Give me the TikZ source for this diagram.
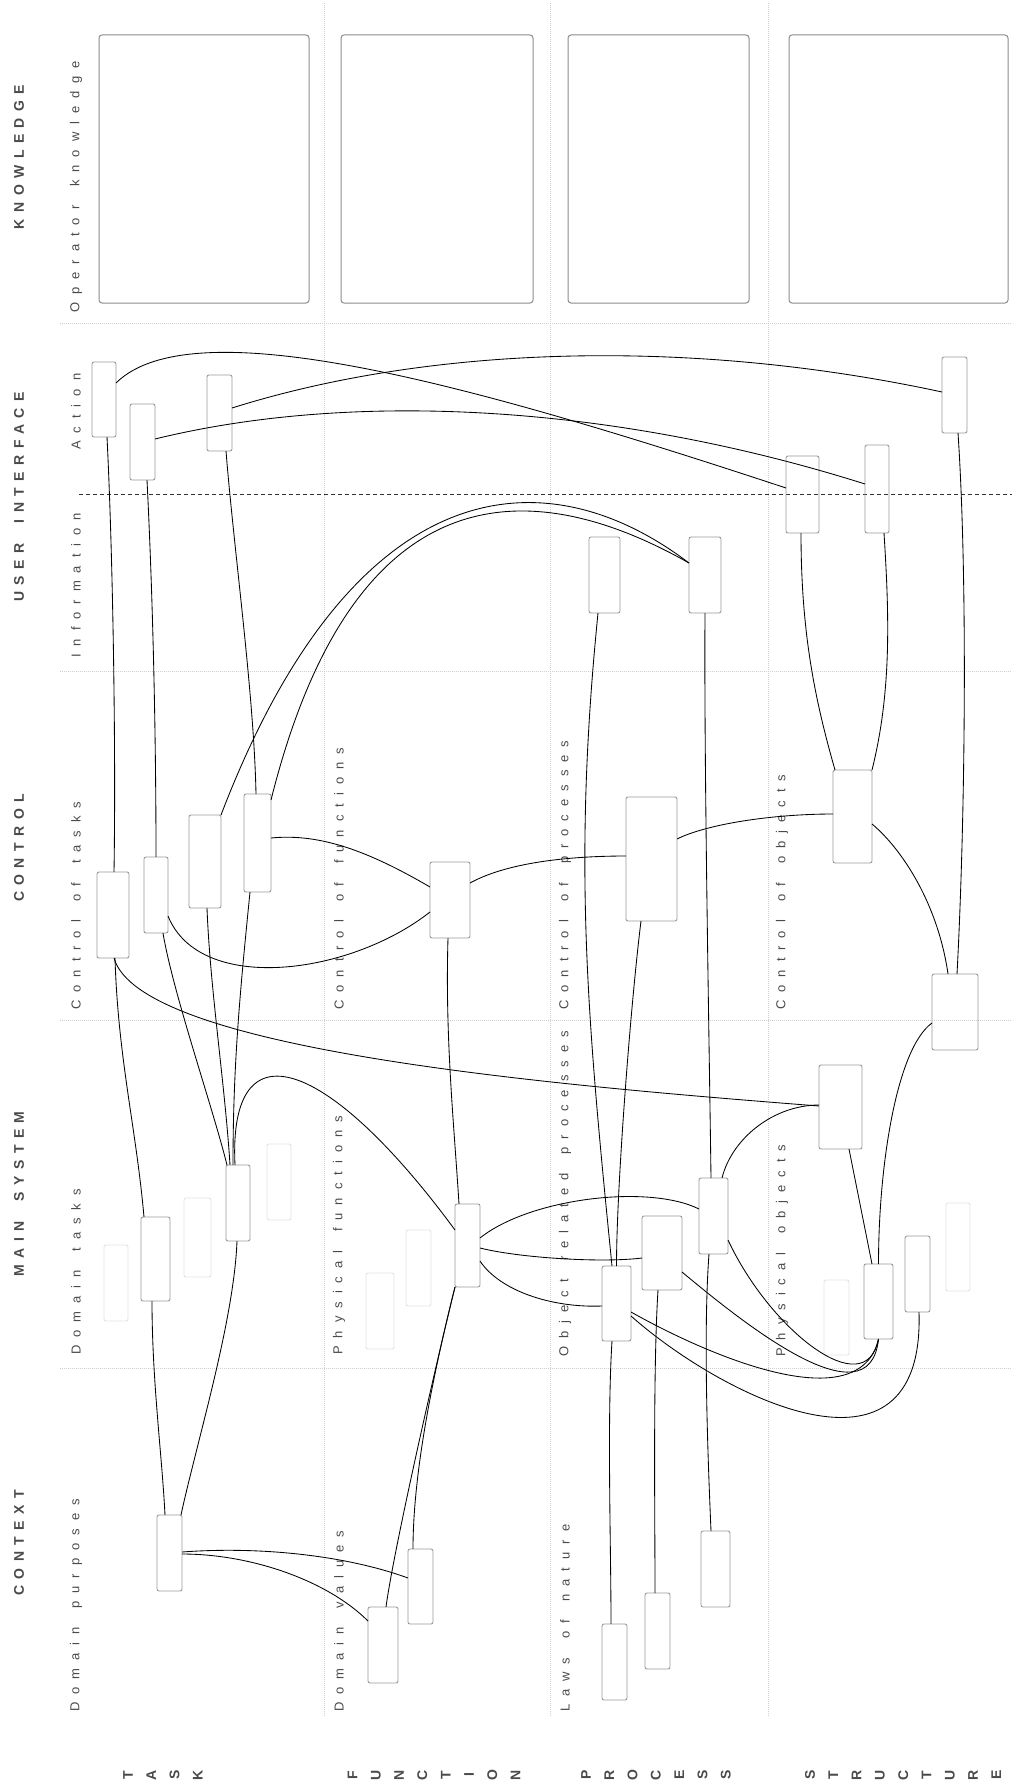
\documentclass[tikz,border=0pt]{standalone}
\usepackage{fontspec}
\setmainfont{Liberation Sans}
\newfontfamily\lblfont[LetterSpace=61.5]{Liberation Sans}
\newfontfamily\hdrfont[LetterSpace=46]{Liberation Sans}
\usetikzlibrary{calc}
\definecolor{gridgray}{HTML}{CFCFCF}
\definecolor{boxgray}{HTML}{9A9A9A}
\definecolor{ghostgray}{HTML}{E2E2E2}
\definecolor{kgray}{HTML}{8C8C8C}
\definecolor{txtgray}{HTML}{4A4A4A}
\definecolor{dashgray}{HTML}{333333}
\newcommand{\mybox}[5][bx]{\node[#1,minimum width=#4pt,minimum height=#5pt] (#2) at (#3) {};}
\newcommand{\ws}{\space\hskip7pt\relax}
\newcommand{\wm}{\space\hskip10pt\relax}
\tikzset{
  bx/.style={draw=boxgray, line width=0.9pt, rounded corners=2pt, inner sep=0pt, outer sep=0pt},
  gbx/.style={draw=ghostgray, line width=0.9pt, rounded corners=2pt, inner sep=0pt, outer sep=0pt},
  kbx/.style={draw=kgray, line width=1pt, rounded corners=3pt, inner sep=0pt, outer sep=0pt},
  lnk/.style={draw=black, line width=0.85pt},
  gridln/.style={draw=gridgray, line width=1pt, dash pattern=on 1pt off 1pt},
  uidash/.style={draw=dashgray, line width=1pt, dash pattern=on 4pt off 3pt},
  mainlbl/.style={rotate=90, inner sep=0pt, text=txtgray, font=\hdrfont\bfseries\fontsize{14}{16}\selectfont},
  sublbl/.style={rotate=90, anchor=west, inner sep=0pt, text=txtgray, font=\lblfont\fontsize{13}{15}\selectfont},
  collbl/.style={rotate=90, inner sep=0pt, text=txtgray, font=\bfseries\fontsize{14}{16}\selectfont}
}
\begin{document}
\begin{tikzpicture}[x=1pt,y=-1pt]
\useasboundingbox (0,0) rectangle (1012,1787);
% grid
\foreach \gx in {324,550,768} \draw[gridln] (\gx,3) -- (\gx,1717);
\foreach \gy in {323,671,1020,1368} \draw[gridln] (60,\gy) -- (1012,\gy);
\draw[uidash] (79,494) -- (1012,494);
% main labels
\node[mainlbl] (hK) at (19,157) {KNOWLEDGE};
\node[mainlbl] (hU) at (19,497) {USER\wm INTERFACE};
\node[mainlbl] (hC) at (19,848) {CONTROL};
\node[mainlbl] (hM) at (19,1194) {MAIN\wm SYSTEM};
\node[mainlbl] (hX) at (19,1543) {CONTEXT};
% sub labels
\node[sublbl] (s1) at (76,313) {Operator\ws knowledge};
\node[sublbl] (s2) at (76,450) {Action};
\node[sublbl] (s3) at (76,658) {Information};
\node[sublbl] (s4) at (76,1010) {Control\ws of\ws tasks};
\node[sublbl] (s5) at (76,1355) {Domain\ws tasks};
\node[sublbl] (s6) at (76,1712) {Domain\ws purposes};
\node[sublbl] (s7) at (339,1010) {Control\ws of\ws functions};
\node[sublbl] (s8) at (339,1355) {Physical\ws functions};
\node[sublbl] (s9) at (339,1712) {Domain\ws values};
\node[sublbl] (s10) at (565,1010) {Control\ws of\ws processes};
\node[sublbl] (s11) at (565,1357) {Object\ws related\ws processes};
\node[sublbl] (s12) at (565,1712) {Laws\ws of\ws nature};
\node[sublbl] (s13) at (782,1010) {Control\ws of\ws objects};
\node[sublbl] (s14) at (782,1357) {Physical\ws objects};
% column labels
\foreach \l [count=\i from 0] in {T,A,S,K} \node[collbl] (ct\i) at (128+\i*23.3,1775) {\l};
\foreach \l [count=\i from 0] in {F,U,N,C,T,I,O,N} \node[collbl] (cf\i) at (352.5+\i*23.3,1775) {\l};
\foreach \l [count=\i from 0] in {P,R,O,C,E,S,S} \node[collbl] (cp\i) at (586+\i*23.3,1775) {\l};
\foreach \l [count=\i from 0] in {S,T,R,U,C,T,U,R,E} \node[collbl] (cs\i) at (810+\i*23.3,1775) {\l};
% knowledge boxes
\mybox[kbx]{K1}{204,169}{210}{268}
\mybox[kbx]{K2}{437,169}{192}{268}
\mybox[kbx]{K3}{658.5,169}{181}{268}
\mybox[kbx]{K4}{898.5,169}{219}{268}
% user interface
\mybox{A1}{104,399.5}{24}{75}
\mybox{A2}{142.5,442}{25}{76}
\mybox{A3}{219.5,413}{25}{76}
\mybox{A4}{954.5,395}{25}{76}
\mybox{A5}{802.5,494.5}{33}{77}
\mybox{A6}{877,489}{24}{88}
\mybox{I1}{604.5,575}{31}{76}
\mybox{I2}{705,575}{32}{76}
% control
\mybox{C1}{113,915}{32}{86}
\mybox{C2}{156,895}{24}{76}
\mybox{C3}{205,861.5}{32}{93}
\mybox{C4}{257.5,843}{27}{98}
\mybox{C5}{450,900}{40}{76}
\mybox{C6}{651.5,859}{51}{124}
\mybox{C7}{852.5,816.5}{39}{93}
\mybox{C8}{955,1012}{46}{76}
% main system
\mybox[gbx]{G1}{116,1283}{24}{76}
\mybox{M1}{155.5,1259}{29}{84}
\mybox[gbx]{G2}{197.5,1237.5}{27}{79}
\mybox{M2}{238,1203}{24}{76}
\mybox[gbx]{G3}{279,1182}{24}{76}
\mybox[gbx]{G4}{380,1311}{28}{76}
\mybox[gbx]{G5}{418.5,1268}{25}{76}
\mybox{M3}{467.5,1245.5}{25}{83}
\mybox{M4}{616.5,1303.5}{29}{75}
\mybox{M5}{662,1253}{40}{74}
\mybox{M6}{713.5,1216}{29}{76}
\mybox{M7}{840.5,1107}{43}{84}
\mybox[gbx]{G6}{836.5,1317.5}{25}{75}
\mybox{M8}{878.5,1301.5}{29}{75}
\mybox{M9}{917.5,1274}{25}{76}
\mybox[gbx]{G7}{958,1247}{24}{88}
% context
\mybox{X1}{169.5,1553}{25}{76}
\mybox{X2}{420.5,1586.5}{25}{75}
\mybox{X3}{383,1645}{30}{76}
\mybox{X4}{614.5,1662}{25}{76}
\mybox{X5}{657.5,1631}{25}{76}
\mybox{X6}{715.5,1569}{29}{76}
% connectors
\draw[lnk] ($(A1.north east)+(0,21)$) .. controls +(79,-78) and +(-300,-99) .. ($(A5.north west)+(0,32)$);
\draw[lnk] ($(A2.north east)+(0,35)$) .. controls +(200,-49) and +(-250,-79) .. ($(A6.north west)+(0,39)$);
\draw[lnk] ($(A3.north east)+(0,33)$) .. controls +(200,-63) and +(-250,-54) .. ($(A4.north west)+(0,35)$);
\draw[lnk] ($(A1.south)+(3,0)$) .. controls +(6,120) and +(2,-120) .. ($(C1.north)+(1,0)$);
\draw[lnk] ($(A2.south)+(4.5,0)$) .. controls +(6,120) and +(0,-120) .. (C2.north);
\draw[lnk] ($(A3.south)+(6.5,0)$) .. controls +(8,100) and +(-2,-100) .. ($(C4.north)+(-1.5,0)$);
\draw[lnk] ($(I2.north west)+(0,26)$) .. controls +(-149,-113) and +(130,-340) .. (C3.north east);
\draw[lnk] ($(I2.north west)+(0,26)$) .. controls +(-129,-73) and +(90,-360) .. ($(C4.north east)+(0,6)$);
\draw[lnk] ($(C4.north east)+(0,44)$) .. controls +(50,-5) and +(-60,-35) .. ($(C5.north west)+(0,25)$);
\draw[lnk] ($(C2.north east)+(0,59)$) .. controls +(32,79) and +(-80,63) .. ($(C5.north west)+(0,50)$);
\draw[lnk] ($(C5.north east)+(0,21)$) .. controls +(40,-22) and +(-50,0) .. ($(C6.north west)+(0,59)$);
\draw[lnk] ($(C6.north east)+(0,42)$) .. controls +(30,-15) and +(-60,0) .. ($(C7.north west)+(0,44)$);
\draw[lnk] ($(C7.north west)+(2,0)$) .. controls +(-20,-70) and +(0,100) .. ($(A5.south)+(-1.5,0)$);
\draw[lnk] (C7.north east) .. controls +(20,-80) and +(5,80) .. ($(A6.south)+(7,0)$);
\draw[lnk] ($(A4.south)+(3.5,0)$) .. controls +(10,150) and +(8,-150) .. ($(C8.north)+(2,0)$);
\draw[lnk] ($(C7.north east)+(0,54)$) .. controls +(30,25) and +(-10,-70) .. ($(C8.north west)+(16,0)$);
\draw[lnk] ($(C1.south)+(1,0)$) .. controls +(26,92) and +(-269,-21) .. ($(M7.north west)+(0,41)$);
\draw[lnk] ($(C1.south)+(2,0)$) .. controls +(3,100) and +(-8,-90) .. ($(M1.north west)+(3,0)$);
\draw[lnk] ($(C2.south)+(7,0)$) .. controls +(10,60) and +(-15,-60) .. ($(M2.north west)+(1,0)$);
\draw[lnk] ($(C3.south)+(2,0)$) .. controls +(3,80) and +(-5,-80) .. ($(M2.north)+(-8,0)$);
\draw[lnk] ($(C4.south)+(-7.5,0)$) .. controls +(-10,100) and +(0,-100) .. ($(M2.north)+(-5,0)$);
\draw[lnk] ($(M2.north)+(-3,0)$) .. controls +(-7,-145) and +(-125,-170) .. ($(M3.north west)+(0,26)$);
\draw[lnk] ($(C5.south)+(-2,0)$) .. controls +(-3,100) and +(-5,-80) .. ($(M3.north)+(-8.5,0)$);
\draw[lnk] ($(M3.north east)+(0,34)$) .. controls +(50,-40) and +(-50,-25) .. ($(M6.north west)+(0,31)$);
\draw[lnk] ($(M3.north east)+(0,44)$) .. controls +(40,10) and +(-40,5) .. ($(M5.north west)+(0,42)$);
\draw[lnk] ($(M3.north east)+(0,57)$) .. controls +(20,30) and +(-50,2) .. ($(M4.north west)+(0,40)$);
\draw[lnk] (M3.south west) .. controls +(-15,60) and +(8,-60) .. ($(X3.north)+(3,0)$);
\draw[lnk] (M3.south west) .. controls +(-20,80) and +(0,-80) .. ($(X2.north)+(-7.5,0)$);
\draw[lnk] ($(M1.south)+(-3.5,0)$) .. controls +(0,80) and +(-3,-60) .. ($(X1.north)+(-4.5,0)$);
\draw[lnk] ($(M2.south)+(-1,0)$) .. controls +(-3,80) and +(15,-70) .. ($(X1.north east)+(-1,0)$);
\draw[lnk] ($(X1.north east)+(0,37)$) .. controls +(80,-6) and +(-60,-22) .. ($(X2.north west)+(0,29)$);
\draw[lnk] ($(X1.north east)+(0,39)$) .. controls +(70,0) and +(-40,-40) .. ($(X3.north west)+(0,14)$);
\draw[lnk] ($(I1.south)+(-6.5,0)$) .. controls +(-25,250) and +(-25,-250) .. ($(M4.north)+(-4.5,0)$);
\draw[lnk] (I2.south) .. controls +(-1,150) and +(-2,-150) .. ($(M6.north)+(-2.5,0)$);
\draw[lnk] ($(C6.south)+(-10.5,0)$) .. controls +(-10,80) and +(0,-80) .. (M4.north);
\draw[lnk] ($(M4.south)+(-4.5,0)$) .. controls +(-5,80) and +(0,-80) .. ($(X4.north)+(-3.5,0)$);
\draw[lnk] ($(M5.south)+(-4,0)$) .. controls +(-5,80) and +(0,-80) .. ($(X5.north)+(-2.5,0)$);
\draw[lnk] ($(M6.south)+(-4.5,0)$) .. controls +(-6,80) and +(-3,-70) .. ($(X6.north)+(-4.5,0)$);
\draw[lnk] ($(M6.north east)+(-6,0)$) .. controls +(10,-40) and +(-45,0) .. ($(M7.north west)+(0,40)$);
\draw[lnk] ($(M7.south)+(8.5,0)$) -- ($(M8.north)+(-6.5,0)$);
\draw[lnk] ($(C8.north west)+(0,49)$) .. controls +(-35,25) and +(0,-100) .. (M8.north);
\draw[lnk] ($(M6.north east)+(0,62)$) .. controls +(42,90) and +(-13,66) .. (M8.south);
\draw[lnk] ($(M5.north east)+(0,56)$) .. controls +(60,50) and +(-9,86) .. (M8.south);
\draw[lnk] ($(M4.north east)+(0,46)$) .. controls +(80,45) and +(-19,81) .. (M8.south);
\draw[lnk] ($(M4.north east)+(0,50)$) .. controls +(89,79) and +(6,188) .. ($(M9.south)+(1.5,0)$);
\end{tikzpicture}
\end{document}
